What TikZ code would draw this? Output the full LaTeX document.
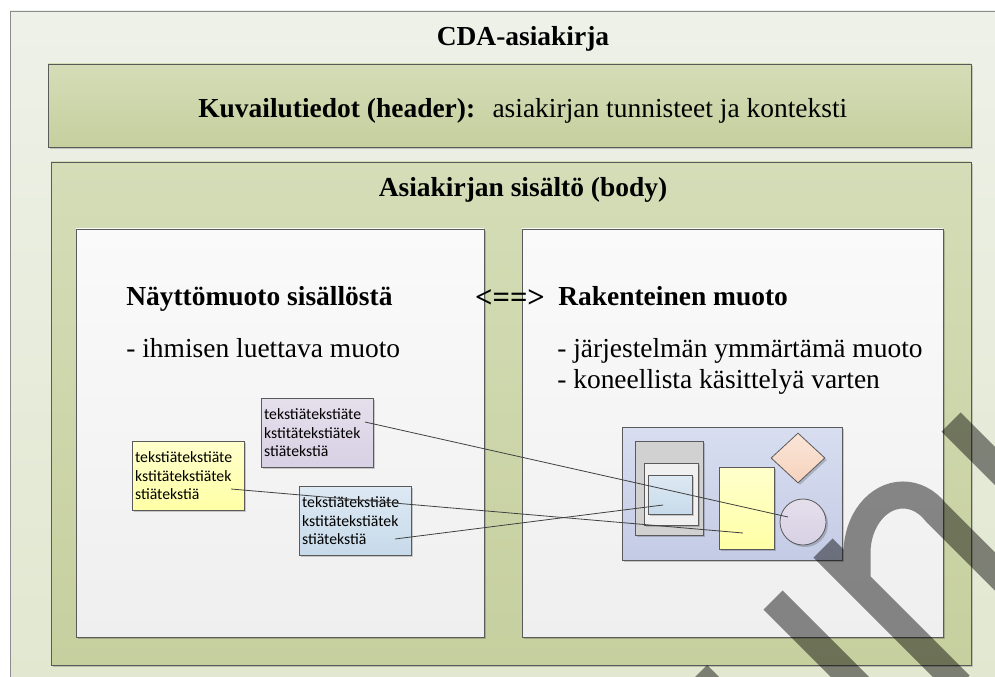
\documentclass[tikz,border=0pt]{standalone}
\usepackage{fontspec}
\setmainfont{Liberation Serif}
\newfontfamily\notefont{Carlito}
\usepackage{tikz}
\usetikzlibrary{shapes.geometric, shadows}
\definecolor{framegray}{HTML}{8C8C8C}
\definecolor{edgegray}{HTML}{5A5A5A}
\definecolor{linkgray}{HTML}{404040}
\definecolor{outertop}{HTML}{EEF1E8}
\definecolor{outerbot}{HTML}{E1E7CF}
\definecolor{greentop}{HTML}{D5DDB8}
\definecolor{greenbot}{HTML}{C6CF9E}
\definecolor{papertop}{HTML}{FAFAFA}
\definecolor{paperbot}{HTML}{EFEFEF}
\definecolor{lilactop}{HTML}{E5DFEC}
\definecolor{lilacbot}{HTML}{D8D0E4}
\definecolor{lemontop}{HTML}{FFFFCC}
\definecolor{lemonbot}{HTML}{FFFFA6}
\definecolor{skytop}{HTML}{DDE9F3}
\definecolor{skybot}{HTML}{C7DAEA}
\definecolor{slatetop}{HTML}{D8DEF0}
\definecolor{slatebot}{HTML}{C4CBE5}
\definecolor{peachtop}{HTML}{FAE5D8}
\definecolor{peachbot}{HTML}{F6D3BD}
\newcommand{\bigfont}{\fontsize{20.6pt}{24pt}\selectfont}
\tikzset{softshadow/.style={drop shadow={shadow xshift=1.5pt, shadow yshift=-1.5pt, opacity=0.18, fill=black}}}
\tikzstyle{note} = [draw=edgegray, line width=0.6pt, text width=80pt, inner xsep=2pt, inner ysep=0pt, minimum height=51.75pt, align=left, anchor=north west, font=\notefont\fontsize{11.8pt}{14pt}\selectfont, softshadow]
\tikzstyle{part} = [draw=edgegray, line width=0.6pt, inner sep=0pt, anchor=north west, softshadow]
\tikzstyle{link} = [draw=linkgray, line width=0.6pt]

\begin{document}
\begin{tikzpicture}[x=0.75pt, y=-0.75pt,
    panel/.style={draw=edgegray, line width=0.7pt, softshadow},
    wmark/.style={draw=black, opacity=0.45, line width=20.25pt}]
    \useasboundingbox (0,0) rectangle (995,677);
    \clip (0,0) rectangle (995,677);
    \fill[white] (0,0) rectangle (995,677);
    % outer frame and the two main parts
    \draw[draw=framegray, line width=0.7pt, top color=outertop, bottom color=outerbot] (10,11) rectangle (1010,700);
    \draw[panel, top color=greentop, bottom color=greenbot] (48,64) rectangle (971,147);
    \draw[panel, top color=greentop, bottom color=greenbot] (51,162) rectangle (971,665);
    \draw[panel, top color=papertop, bottom color=paperbot] (76,229) rectangle (484,637);
    \draw[panel, top color=papertop, bottom color=paperbot] (522,229) rectangle (943,637);
    % titles
    \node[font=\bigfont\bfseries, anchor=base] (cda) at (523,46) {CDA-asiakirja};
    \node[font=\bigfont, anchor=base west, inner sep=0pt] (hdr) at (198,118) {\textbf{Kuvailutiedot (header):}\hspace{13pt}asiakirjan tunnisteet ja konteksti};
    \node[font=\bigfont\bfseries, anchor=base] (body) at (523,197) {Asiakirjan sisältö (body)};
    \node[font=\bigfont\bfseries, anchor=base west, inner sep=0pt] (view) at (126,305) {Näyttömuoto sisällöstä};
    \node[font=\bigfont, anchor=base west, inner sep=0pt] (viewtxt) at (126,357) {- ihmisen luettava muoto};
    \node[font=\bigfont\bfseries, anchor=base west, inner sep=0pt] (struct) at (558,305) {Rakenteinen muoto};
    \node[font=\bigfont, anchor=base west, inner sep=0pt, align=left] (structtxt) at (557,357) {- järjestelmän ymmärtämä muoto};
    \node[font=\bigfont, anchor=base west, inner sep=0pt] (structtxt2) at (557,388) {- koneellista käsittelyä varten};
    \node[font=\fontsize{23pt}{26pt}\selectfont\bfseries, anchor=base, inner sep=0pt] (both) at (510,307) {<==>};
    % text boxes of the view
    \node[note, top color=lilactop, bottom color=lilacbot] (lilac) at (261,398) {tekstiätekstiäte\\kstitätekstiätek\\stiätekstiä};
    \node[note, top color=lemontop, bottom color=lemonbot] (lemon) at (132,441) {tekstiätekstiäte\\kstitätekstiätek\\stiätekstiä};
    \node[note, top color=skytop, bottom color=skybot] (sky) at (299,486) {tekstiätekstiäte\\kstitätekstiätek\\stiätekstiä};
    % structured parts
    \node[part, minimum width=165pt, minimum height=99.75pt, top color=slatetop, bottom color=slatebot] (frame) at (622,427) {};
    \node[part, minimum width=51pt, minimum height=70.5pt, fill=black!18] (outerbox) at (635,441) {};
    \node[part, minimum width=40.5pt, minimum height=46.5pt, fill=black!6] (innerbox) at (644,463) {};
    \node[part, minimum width=33pt, minimum height=29.25pt, top color=skytop, bottom color=skybot] (cell) at (648,475) {};
    \node[part, minimum width=41.25pt, minimum height=61.5pt, top color=lemontop, bottom color=lemonbot] (block) at (719,467) {};
    \node[part, diamond, anchor=center, minimum width=40.5pt, minimum height=37.5pt, top color=peachtop, bottom color=peachbot] (gem) at (798,458) {};
    \node[part, circle, anchor=center, minimum size=34.5pt, top color=lilactop, bottom color=lilacbot] (ball) at (803,522) {};
    % links
    \coordinate (l1) at (365,422);
    \coordinate (l2) at (231,489);
    \coordinate (l3) at (395,539);
    \coordinate (b1) at (788,517);
    \coordinate (b2) at (743,533);
    \coordinate (b3) at (663,505);
    \draw[link] (l1) -- (b1);
    \draw[link] (l2) -- (b2);
    \draw[link] (l3) -- (b3);
    % overlay strokes
    \draw[wmark] (823,548) -- (960,685) (857,578) -- (857,553) arc[start angle=180, end angle=315, x radius=46, y radius=58] -- ++(80,80);
    \draw[wmark] (951,422) -- (1050,521);
    \draw[wmark] (773,600) -- (870,697);
    \draw[wmark] (697.5,674.5) -- (760,737);
\end{tikzpicture}
\end{document}
